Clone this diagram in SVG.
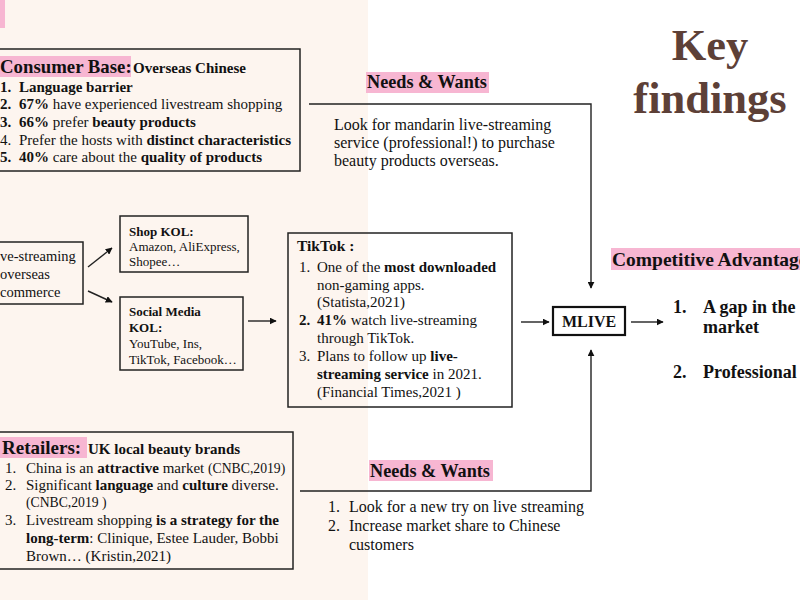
<svg xmlns="http://www.w3.org/2000/svg" width="800" height="600" viewBox="0 0 800 600">
<defs>
<marker id="ah" viewBox="0 0 10 10" refX="9" refY="5" markerWidth="7" markerHeight="7" markerUnits="userSpaceOnUse" orient="auto"><path d="M0,0 L10,5 L0,10 z" fill="#111"/></marker>
</defs>
<style>
text{font-family:"Liberation Serif","Times New Roman",serif;fill:#111;font-size:15px}
.b{font-weight:bold}
.box{fill:none;stroke:#222;stroke-width:1.5}
.hl{fill:#f7b6d2}
.ln{fill:none;stroke:#222;stroke-width:1.4}
.sm{font-size:13.7px}
.kf{font-size:44.5px;font-weight:bold;fill:#5d4037;text-anchor:middle}
.adv{font-weight:bold;font-size:18px}
.nw{font-weight:bold;font-size:18.2px}
.kol{font-size:13px}
.big{font-size:16px}
</style>
<rect width="800" height="600" fill="#ffffff"/>
<rect width="368" height="600" fill="#fdf5ef"/>
<rect class="hl" x="0" y="0" width="5" height="28"/>

<g id="key-findings">
<text class="kf" x="710" y="60">Key</text>
<text class="kf" x="710" y="113">findings</text>
</g>

<g id="consumer-base">
<rect class="box" x="-2" y="49" width="302" height="122"/>
<rect class="hl" x="0" y="56" width="131" height="21"/>
<text x="0" y="73" class="b" style="font-size:18.8px">Consumer Base:</text>
<text x="133" y="73" class="b" style="font-size:15px">Overseas Chinese</text>
<text x="0" y="92" class="b">1.<tspan x="19">Language barrier</tspan></text>
<text x="0" y="109"><tspan class="b">2.</tspan><tspan x="19" class="b">67%</tspan> have experienced livestream shopping</text>
<text x="0" y="127"><tspan class="b">3.</tspan><tspan x="19" class="b">66%</tspan> prefer <tspan class="b">beauty products</tspan></text>
<text x="0" y="145">4.<tspan x="19">Prefer the hosts with </tspan><tspan class="b">distinct characteristics</tspan></text>
<text x="0" y="162"><tspan class="b">5.</tspan><tspan x="19" class="b">40%</tspan> care about the <tspan class="b">quality of products</tspan></text>
</g>

<g id="needs-top">
<rect class="hl" x="366" y="72" width="123" height="21"/>
<text x="367" y="88" class="nw">Needs &amp; Wants</text>
<text x="334" y="130" class="big">Look for mandarin live-streaming</text>
<text x="334" y="148" class="big">service (professional!) to purchase</text>
<text x="334" y="166" class="big">beauty products overseas.</text>
</g>

<g id="live-streaming">
<rect class="box" x="-2" y="242" width="85" height="62"/>
<text x="0" y="261" style="font-size:14.5px">ve-streaming</text>
<text x="0" y="279" style="font-size:14.5px">overseas</text>
<text x="0" y="297" style="font-size:14.5px">commerce</text>
</g>

<g id="shop-kol">
<rect class="box" x="120" y="216" width="128" height="56"/>
<text x="129" y="236" class="b kol">Shop KOL:</text>
<text x="129" y="251" class="kol">Amazon, AliExpress,</text>
<text x="129" y="266" class="kol">Shopee…</text>
</g>

<g id="social-kol">
<rect class="box" x="120" y="297" width="123" height="73"/>
<text x="129" y="316" class="b kol">Social Media</text>
<text x="129" y="332" class="b kol">KOL:</text>
<text x="129" y="348" class="kol">YouTube, Ins,</text>
<text x="129" y="364" class="kol">TikTok, Facebook…</text>
</g>

<g id="tiktok">
<rect class="box" x="288" y="233" width="224" height="174"/>
<text x="297" y="251" class="b" style="font-size:15.5px">TikTok :</text>
<text x="299" y="272">1.<tspan x="317">One of the </tspan><tspan class="b">most downloaded</tspan></text>
<text x="317" y="290">non-gaming apps.</text>
<text x="317" y="307">(Statista,2021)</text>
<text x="299" y="325"><tspan class="b">2.</tspan><tspan x="317" class="b">41%</tspan> watch live-streaming</text>
<text x="317" y="343">through TikTok.</text>
<text x="299" y="361">3.<tspan x="317">Plans to follow up </tspan><tspan class="b">live-</tspan></text>
<text x="317" y="379"><tspan class="b">streaming service</tspan> in 2021.</text>
<text x="317" y="397">(Financial Times,2021 )</text>
</g>

<g id="mlive">
<rect x="553" y="307" width="72" height="28" fill="none" stroke="#111" stroke-width="2.2"/>
<text x="589" y="327" class="b" text-anchor="middle" style="font-size:16px">MLIVE</text>
</g>

<g id="competitive-advantage">
<rect class="hl" x="611" y="248" width="189" height="22"/>
<text x="612" y="266" class="b" style="font-size:19.5px">Competitive Advantage</text>
<text x="673" y="313" class="adv">1.</text>
<text x="703" y="313" class="adv">A gap in the</text>
<text x="703" y="333" class="adv">market</text>
<text x="673" y="378" class="adv">2.</text>
<text x="703" y="378" class="adv">Professional</text>
</g>

<g id="retailers">
<rect class="box" x="-2" y="432" width="295" height="137"/>
<rect class="hl" x="0" y="437" width="87" height="21"/>
<text x="2" y="454" class="b" style="font-size:19px">Retailers:</text>
<text x="88" y="454" class="b" style="font-size:15px">UK local beauty brands</text>
<text x="5" y="473">1.<tspan x="26">China is an </tspan><tspan class="b">attractive</tspan> market <tspan class="sm">(CNBC,2019)</tspan></text>
<text x="5" y="490">2.<tspan x="26">Significant </tspan><tspan class="b">language</tspan> and <tspan class="b">culture</tspan> diverse.</text>
<text x="26" y="507" class="sm">(CNBC,2019 )</text>
<text x="5" y="525">3.<tspan x="26">Livestream shopping </tspan><tspan class="b">is a strategy for the</tspan></text>
<text x="26" y="543"><tspan class="b">long-term</tspan>: Clinique, Estee Lauder, Bobbi</text>
<text x="26" y="561">Brown… (Kristin,2021)</text>
</g>

<g id="needs-bottom">
<rect class="hl" x="369" y="460" width="124" height="21"/>
<text x="370" y="477" class="nw">Needs &amp; Wants</text>
<text x="328" y="512" class="big">1.<tspan x="349">Look for a new try on live streaming</tspan></text>
<text x="328" y="531" class="big">2.<tspan x="349">Increase market share to Chinese</tspan></text>
<text x="349" y="550" class="big">customers</text>
</g>

<g id="connectors">
<path class="ln" d="M309,104 H591 V288" marker-end="url(#ah)"/>
<path class="ln" d="M300,491 H591 V350" marker-end="url(#ah)"/>
<line class="ln" x1="88" y1="267" x2="112" y2="248" marker-end="url(#ah)"/>
<line class="ln" x1="88" y1="291" x2="112" y2="302" marker-end="url(#ah)"/>
<line class="ln" x1="248" y1="321" x2="276" y2="321" marker-end="url(#ah)"/>
<line class="ln" x1="521" y1="322" x2="549" y2="322" marker-end="url(#ah)"/>
<line class="ln" x1="631" y1="322" x2="663" y2="322" marker-end="url(#ah)"/>
</g>
</svg>
